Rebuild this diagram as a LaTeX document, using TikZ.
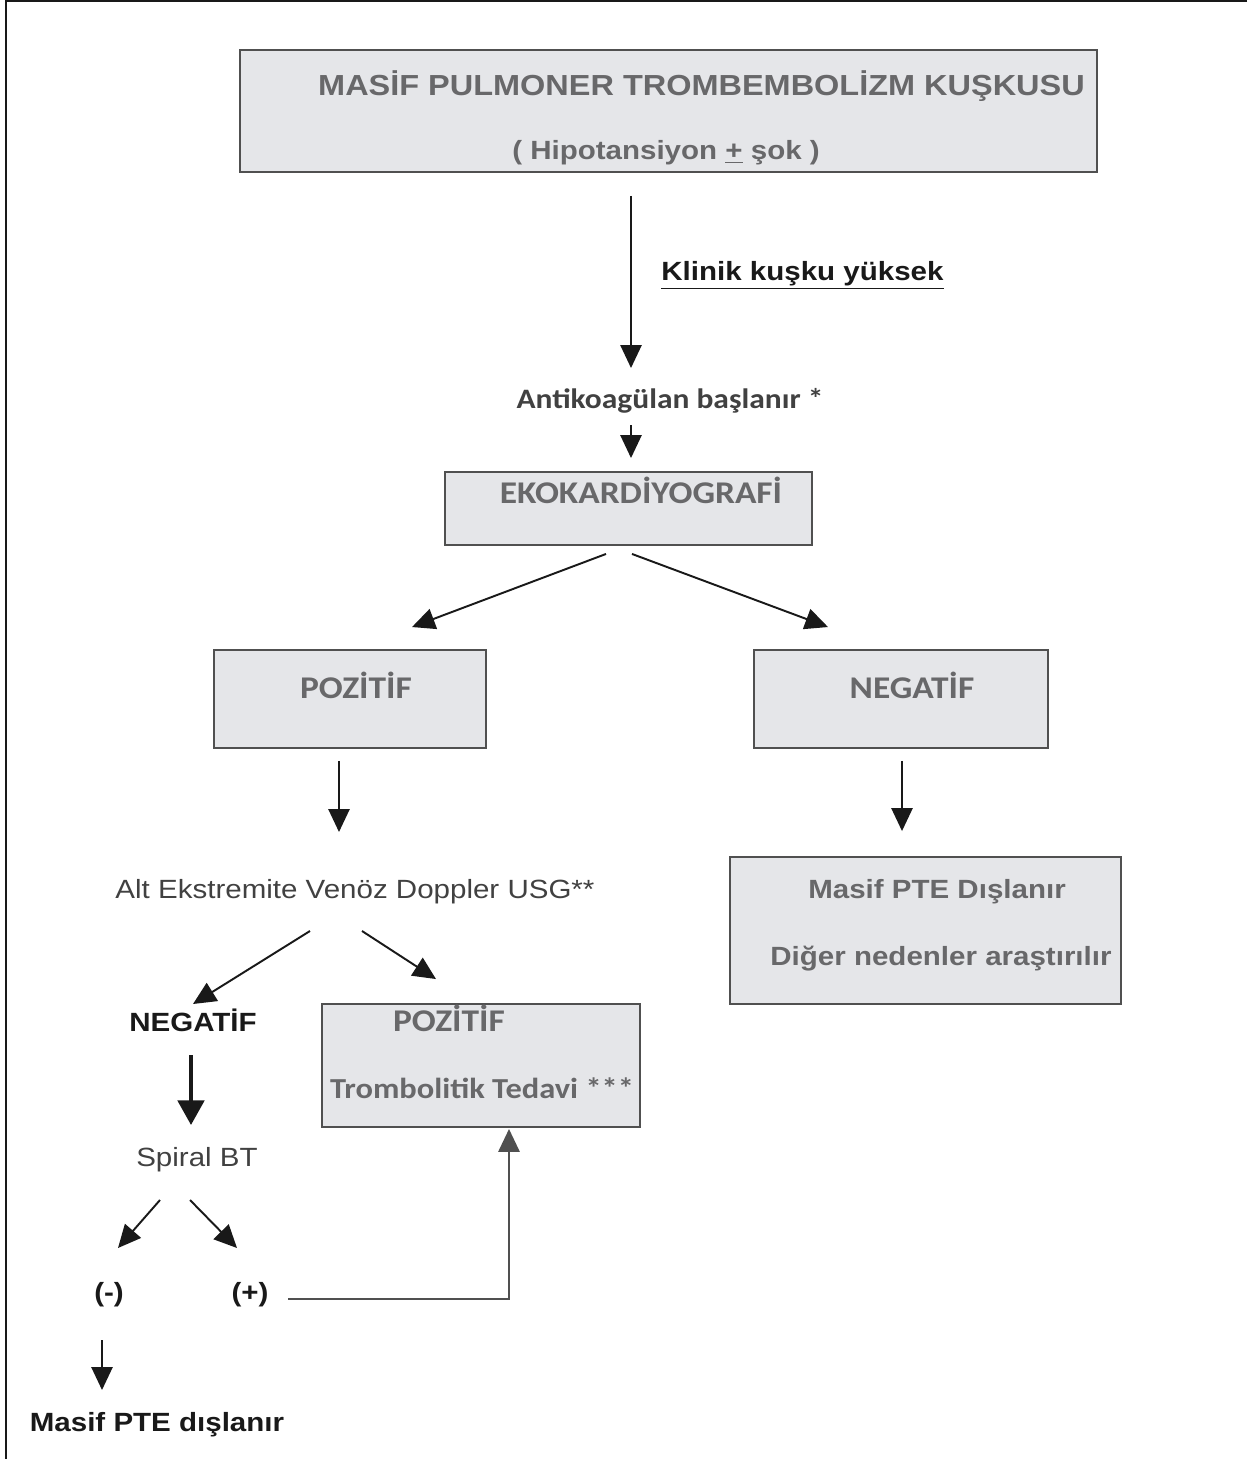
\documentclass[tikz,border=0pt]{standalone}
\usepackage{fontspec}
\setmainfont{Liberation Sans}[FakeStretch=1.12]
\newfontfamily\calfont{Carlito}[FakeStretch=1.12]
\usetikzlibrary{arrows.meta}
\definecolor{boxfill}{RGB}{229,230,233}
\definecolor{boxline}{RGB}{80,80,80}
\definecolor{boxtext}{RGB}{104,104,106}
\definecolor{darktext}{RGB}{65,65,65}
\definecolor{inkblack}{RGB}{25,25,25}
\begin{document}
\begin{tikzpicture}[x=0.02cm, y=-0.02cm,
  box/.style={draw=boxline, fill=boxfill, line width=1.1pt, inner sep=0pt},
  lbl/.style={inner sep=0pt, text height=.98em, text depth=0pt},
  arial/.style={lbl, font=\fontsize{15}{18}\selectfont\bfseries},
  calib/.style={lbl, text=boxtext, font=\fontsize{18}{22}\selectfont\calfont\bfseries},
  arr/.style={-{Triangle[length=13pt,width=12pt]}, line width=1.1pt, draw=inkblack}]
  \useasboundingbox (0,0) rectangle (1247,1459);
  \draw[line width=1.2pt, inkblack] (1247,1) -- (6,1) -- (6,1459);

  % boxes
  \node[box, minimum width=17.14cm, minimum height=2.44cm] (top) at (668.5,111) {};
  \node[box, minimum width=7.34cm, minimum height=1.46cm] (eko) at (628.5,508.5) {};
  \node[box, minimum width=5.44cm, minimum height=1.96cm] (poz) at (350,699) {};
  \node[box, minimum width=5.88cm, minimum height=1.96cm] (neg) at (901,699) {};
  \node[box, minimum width=7.82cm, minimum height=2.94cm] (dis) at (925.5,930.5) {};
  \node[box, minimum width=6.36cm, minimum height=2.46cm] (trom) at (481,1065.5) {};

  % texts
  \node[lbl, text=boxtext, font=\fontsize{16.5}{20}\selectfont\bfseries] (topA) at (701.5,87) {MASİF PULMONER TROMBEMBOLİZM KUŞKUSU};
  \node[arial, text=boxtext] (topB) at (666,151) {( Hipotansiyon \underline{+} şok )};
  \node[arial, text=inkblack] (klinik) at (802.5,272) {\underline{Klinik kuşku yüksek}};
  \node[lbl, text=darktext, font=\fontsize{16}{20}\selectfont\calfont\bfseries] (antik) at (670,400) {Antikoagülan başlanır *};
  \node[calib] (ekoT) at (641,495) {EKOKARDİYOGRAFİ};
  \node[calib] (pozT) at (356,690) {POZİTİF};
  \node[calib] (negT) at (912,690) {NEGATİF};
  \node[lbl, text=darktext, font=\fontsize{15}{18}\selectfont] (doppler) at (355,890) {Alt Ekstremite Venöz Doppler USG**};
  \node[arial, text=boxtext] (disA) at (937,890) {Masif PTE Dışlanır};
  \node[arial, text=boxtext] (disB) at (941,957) {Diğer nedenler araştırılır};
  \node[arial, text=inkblack] (negB) at (193,1023) {NEGATİF};
  \node[calib] (pozB) at (449,1023) {POZİTİF};
  \node[lbl, text=boxtext, font=\fontsize{16.5}{20}\selectfont\calfont\bfseries] (tromT) at (482,1090) {Trombolitik Tedavi ***};
  \node[lbl, text=darktext, font=\fontsize{15}{18}\selectfont] (spiral) at (197,1158) {Spiral BT};
  \node[arial, text=inkblack] (minus) at (109,1293) {(-)};
  \node[arial, text=inkblack] (plus) at (250,1293) {(+)};
  \node[arial, text=inkblack] (masif) at (157,1423) {Masif PTE dışlanır};

  % arrows
  \draw[arr] ([shift={(-37.5,23)}]top.south) -- ([shift={(-39,-32)}]antik.center);
  \draw[arr] ([shift={(-39,25)}]antik.center) -- ([shift={(2.5,-13)}]eko.north);
  \draw[arr] ([shift={(-22.5,8)}]eko.south) -- ([shift={(62,-22)}]poz.north);
  \draw[arr] ([shift={(3.5,8)}]eko.south) -- ([shift={(-73,-22)}]neg.north);
  \draw[arr] ([shift={(-11,12)}]poz.south) -- ([shift={(-16,-58)}]doppler.center);
  \draw[arr] ([shift={(1,12)}]neg.south) -- ([shift={(-23.5,-25)}]dis.north);
  \draw[arr] ([shift={(-45,41)}]doppler.center) -- ([shift={(0,-19)}]negB.center);
  \draw[arr] ([shift={(7,41)}]doppler.center) -- ([shift={(-45,-24)}]trom.north);
  \draw[arr, line width=2.2pt, -{Triangle[length=14pt,width=15pt]}] ([shift={(-2,32)}]negB.center) -- ([shift={(-6,-33)}]spiral.center);
  \draw[arr] ([shift={(-37,42)}]spiral.center) -- ([shift={(9,-45)}]minus.center);
  \draw[arr] ([shift={(-7,42)}]spiral.center) -- ([shift={(-13,-45)}]plus.center);
  \draw[arr, draw=boxline, line width=1.4pt] ([shift={(38,6)}]plus.center) -| ([shift={(28,1)}]trom.south);
  \draw[arr] ([shift={(-7,47)}]minus.center) -- ([shift={(-55,-33)}]masif.center);
\end{tikzpicture}
\end{document}
